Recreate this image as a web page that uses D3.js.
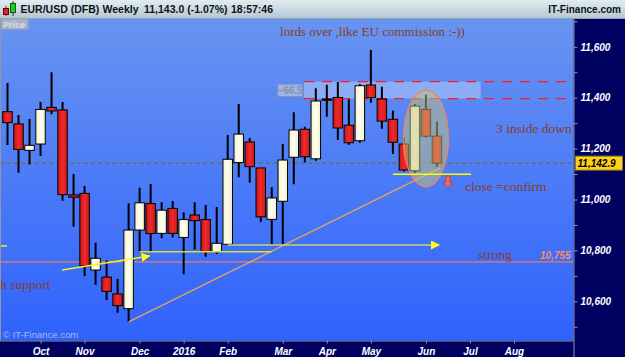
<!DOCTYPE html>
<meta charset="utf-8">
<style>
body { margin: 0; background: #000060; }
svg { display: block; font-family: "Liberation Sans", Arial, sans-serif; }
.note { font-family: "Liberation Serif", "Times New Roman", serif; fill: #8a3b26; }
.axis text { fill: #fff; font-weight: bold; font-style: italic; font-size: 10px; }
.axis line, .axis path { stroke: #8a96aa; }
</style>
<svg width="625" height="357"></svg>
<script src="https://cdn.jsdelivr.net/npm/d3@7"></script>
<script>
// weekly bars EUR/USD (DFB), week of 14 Sep 2015 to week of 13 Jun 2016
var opens  = [11345, 11297, 11193, 11218, 11362, 11352, 11018, 11024, 10723, 10695,
              10629, 10571, 10880, 10984, 10867, 10965, 10851, 10939, 10921, 10795,
              10824, 11145, 11226, 11124, 10922, 10993, 11166, 11276, 11160, 11394,
              11401, 11292, 11231, 11450, 11395, 11315, 11218, 11113, 11354, 11249]
var highs  = [11458, 11332, 11316, 11383, 11500, 11383, 11100, 11053, 10830, 10760,
              10688, 10985, 11046, 11061, 10989, 10994, 10950, 10989, 10978, 10971,
              11253, 11375, 11242, 11124, 11048, 11218, 11343, 11286, 11437, 11451,
              11462, 11394, 11454, 11587, 11443, 11349, 11244, 11375, 11412, 11306]
var lows   = [11214, 11105, 11138, 11171, 11335, 10995, 10893, 10699, 10665, 10605,
              10555, 10519, 10795, 10795, 10848, 10851, 10706, 10804, 10775, 10786,
              10822, 11087, 11066, 10912, 10825, 10825, 11060, 11145, 11152, 11325,
              11234, 11215, 11223, 11380, 11278, 11179, 11110, 11103, 11244, 11129]
var closes = [11302, 11197, 11213, 11354, 11348, 11019, 11009, 10739, 10769, 10639,
              10583, 10880, 10987, 10866, 10958, 10867, 10921, 10917, 10795, 10828,
              11158, 11257, 11129, 10932, 11006, 11155, 11273, 11168, 11387, 11394,
              11281, 11223, 11447, 11400, 11308, 11225, 11116, 11367, 11249, 11143]

var monthTicks  = [3, 7, 12, 16, 20, 25, 29, 33, 38, 42, 46]
var monthLabels = ['Oct', 'Nov', 'Dec', '2016', 'Feb', 'Mar', 'Apr', 'May', 'Jun', 'Jul', 'Aug']
var priceTicks  = [10600, 10800, 11000, 11200, 11400, 11600]
var minorTicks  = [10500, 10700, 10900, 11100, 11300, 11500, 11700]

var lastPrice    = 11142.9
var supportLevel = 10755
var bandLevels   = [11396.5, 11463]
var bandSpan     = [26.93, 42.98]

// drawn lines, as [bar index, price]
var trendLine    = [[11, 10519], [39.3, 11124]]
var supportArrow = [[4.95, 10723], [12.9, 10778]]
var supportLine  = [[12.0, 10795], [24.0, 10795]]
var strongArrow  = [[20.0, 10821], [39.2, 10821]]
var leftStub     = [[-0.7, 10817], [-0.05, 10817]]
var confirmLine  = [[35.0, 11099], [42.1, 11099]]
var circled      = {i0: 36.0, i1: 40.0, top: 11430, bottom: 11050}
var downArrow    = {i: 40.0, top: 11092, bottom: 11048}

var notes = [
  {text: 'lords over ,like EU commission :-))', i: 24.75, v: 11642, size: 13},
  {text: '3 inside down ?', i: 44.37, v: 11261, size: 13.5},
  {text: 'close =confirm', i: 41.55, v: 11033, size: 13.5},
  {text: 'strong', i: 42.73, v: 10766, size: 13.5},
  {text: 'h support', i: -0.68, v: 10648, size: 13.5}
]

const svg = d3.select('svg')
const plotL = 0, plotR = 573.5, plotT = 19, plotB = 340.5

const x = d3.scaleLinear().domain([0, 46]).range([7.5, 514])
const y = d3.scaleLinear().domain([10500, 11700]).range([326.75, 21.35])
const line = d3.line().x(d => x(d[0])).y(d => y(d[1]))

const defs = svg.append('defs')
var bg = defs.append('linearGradient').attr('id', 'bg')
  .attr('x1', 0).attr('y1', 0).attr('x2', 0).attr('y2', 1)
bg.append('stop').attr('offset', '0%').attr('stop-color', '#6894f1')
bg.append('stop').attr('offset', '100%').attr('stop-color', '#2f62fd')

var hd = defs.append('linearGradient').attr('id', 'hd')
  .attr('x1', 0).attr('y1', 0).attr('x2', 0).attr('y2', 1)
hd.append('stop').attr('offset', '0%').attr('stop-color', '#e2ecf0')
hd.append('stop').attr('offset', '100%').attr('stop-color', '#b4c8d4')

var rg = defs.append('linearGradient').attr('id', 'redBody')
rg.append('stop').attr('offset', '0%').attr('stop-color', '#c81616')
rg.append('stop').attr('offset', '50%').attr('stop-color', '#f02a2a')
rg.append('stop').attr('offset', '100%').attr('stop-color', '#cc1818')

var wg = defs.append('linearGradient').attr('id', 'whiteBody')
wg.append('stop').attr('offset', '0%').attr('stop-color', '#f4f1cc')
wg.append('stop').attr('offset', '50%').attr('stop-color', '#fffef0')
wg.append('stop').attr('offset', '100%').attr('stop-color', '#f2efc8')

defs.append('clipPath').attr('id', 'plot')
  .append('rect').attr('x', plotL).attr('y', plotT).attr('width', plotR - plotL).attr('height', plotB - plotT)

defs.append('marker').attr('id', 'yarrow')
  .attr('viewBox', '0 -5 10 10')
  .attr('refX', 9).attr('refY', 0)
  .attr('markerUnits', 'userSpaceOnUse')
  .attr('markerWidth', 9).attr('markerHeight', 9)
  .attr('orient', 'auto')
  .append('path').attr('d', 'M0,-5L10,0L0,5Z').attr('fill', '#ffff10')

// header
svg.append('rect').attr('width', 625).attr('height', 18).attr('fill', 'url(#hd)')
svg.append('line').attr('x1', 0).attr('x2', 625).attr('y1', 18.5).attr('y2', 18.5).attr('stroke', '#8fa3b0')
var icon = svg.append('g')
icon.append('line').attr('x1', 6).attr('x2', 6).attr('y1', 6).attr('y2', 16).attr('stroke', '#333')
icon.append('rect').attr('x', 3.5).attr('y', 8.5).attr('width', 5).attr('height', 6).attr('fill', '#e02222').attr('stroke', '#600')
icon.append('line').attr('x1', 13).attr('x2', 13).attr('y1', 1).attr('y2', 16).attr('stroke', '#333')
icon.append('rect').attr('x', 10.5).attr('y', 3.5).attr('width', 5).attr('height', 9).attr('fill', '#22cc22').attr('stroke', '#060')

var header = [['EUR/USD (DFB)', 20.5], ['Weekly', 102.5], ['11,143.0 (-1.07%)', 144], ['18:57:46', 231]]
svg.append('g').selectAll('text').data(header).enter().append('text')
  .attr('x', d => d[1]).attr('y', 13)
  .attr('font-size', 10.5).attr('font-weight', 'bold').attr('fill', '#111')
  .text(d => d[0])
svg.append('text').attr('x', 621).attr('y', 12.5).attr('text-anchor', 'end')
  .attr('font-size', 10).attr('font-weight', 'bold').attr('fill', '#111')
  .text('IT-Finance.com')

// plot area
svg.append('rect').attr('x', plotL).attr('y', plotT).attr('width', plotR - plotL).attr('height', plotB - plotT)
  .attr('fill', 'url(#bg)')

const plot = svg.append('g').attr('clip-path', 'url(#plot)')

// resistance band
plot.append('rect')
  .attr('x', x(bandSpan[0])).attr('width', x(bandSpan[1]) - x(bandSpan[0]))
  .attr('y', y(bandLevels[1])).attr('height', y(bandLevels[0]) - y(bandLevels[1]))
  .attr('fill', '#ffffff').attr('opacity', 0.3)
plot.selectAll('.band').data(bandLevels).enter().append('line')
  .attr('x1', x(bandSpan[0])).attr('x2', plotR)
  .attr('y1', d => y(d)).attr('y2', d => y(d))
  .attr('stroke', '#ff1c1c').attr('stroke-width', 1.3).attr('stroke-dasharray', '10,8')

var tagG = plot.append('g')
tagG.append('rect')
  .attr('x', x(24.54)).attr('width', x(26.81) - x(24.54))
  .attr('y', y(11453)).attr('height', y(11404) - y(11453))
  .attr('fill', '#9db3ea').attr('stroke', '#8292b0')
tagG.append('text')
  .attr('x', (x(24.54) + x(26.81)) / 2).attr('y', y(11404) - 2.5)
  .attr('text-anchor', 'middle').attr('font-size', 10).attr('font-weight', 'bold').attr('fill', '#8a92a2')
  .text(d3.format('.1f')(bandLevels[0] - bandLevels[1]))

// last price and support levels
plot.append('line').attr('x1', plotL).attr('x2', plotR).attr('y1', y(lastPrice)).attr('y2', y(lastPrice))
  .attr('stroke', '#6c6c3a').attr('stroke-width', 1.3).attr('stroke-dasharray', '4,3')
plot.append('line').attr('x1', plotL).attr('x2', plotR).attr('y1', y(supportLevel)).attr('y2', y(supportLevel))
  .attr('stroke', '#ee7c5c').attr('stroke-width', 1.3)
plot.append('text').attr('x', plotR - 3).attr('y', y(supportLevel) - 3).attr('text-anchor', 'end')
  .attr('font-size', 10).attr('font-weight', 'bold').attr('font-style', 'italic').attr('fill', '#ff8a5c')
  .text(d3.format(',')(supportLevel))

// candles
var bars = d3.range(opens.length).map(i => ({i: i, o: opens[i], h: highs[i], l: lows[i], c: closes[i]}))
var candle = plot.append('g').selectAll('g').data(bars).enter().append('g')
candle.append('line')
  .attr('x1', d => x(d.i)).attr('x2', d => x(d.i))
  .attr('y1', d => y(d.h)).attr('y2', d => y(d.l))
  .attr('stroke', '#000').attr('stroke-width', 2)
candle.append('rect')
  .attr('x', d => x(d.i) - 4.75).attr('width', 9.5)
  .attr('y', d => y(Math.max(d.o, d.c)))
  .attr('height', d => Math.max(1, Math.abs(y(d.o) - y(d.c))))
  .attr('fill', d => d.c > d.o ? 'url(#whiteBody)' : 'url(#redBody)')
  .attr('stroke', '#000').attr('stroke-width', 1)

// drawn lines
plot.append('path').datum(trendLine).attr('d', line)
  .attr('stroke', '#e8a455').attr('stroke-width', 1.3).attr('fill', 'none')
plot.append('path').datum(leftStub).attr('d', line)
  .attr('stroke', '#f2f21c').attr('stroke-width', 1.5)
plot.append('path').datum(supportLine).attr('d', line)
  .attr('stroke', '#dede30').attr('stroke-width', 1.5)
plot.append('path').datum(supportArrow).attr('d', line)
  .attr('stroke', '#f4f41c').attr('stroke-width', 1.5).attr('marker-end', 'url(#yarrow)')
plot.append('path').datum(strongArrow).attr('d', line)
  .attr('stroke', '#c8d070').attr('stroke-width', 1.5).attr('marker-end', 'url(#yarrow)')

plot.append('ellipse')
  .attr('cx', (x(circled.i0) + x(circled.i1)) / 2).attr('rx', (x(circled.i1) - x(circled.i0)) / 2 + 0.5)
  .attr('cy', (y(circled.top) + y(circled.bottom)) / 2).attr('ry', (y(circled.bottom) - y(circled.top)) / 2)
  .attr('fill', '#c4c47c').attr('fill-opacity', 0.5)
  .attr('stroke', '#f08458').attr('stroke-width', 1.2)

plot.append('path').datum(confirmLine).attr('d', line)
  .attr('stroke', '#ffff00').attr('stroke-width', 1.6)

var ax = x(downArrow.i), at = y(downArrow.top), ab = y(downArrow.bottom)
plot.append('path')
  .attr('d', `M${ax - 2},${at}H${ax + 2}V${ab - 5}H${ax + 5}L${ax},${ab}L${ax - 5},${ab - 5}H${ax - 2}Z`)
  .attr('fill', '#f06a5a').attr('stroke', '#c8382c').attr('stroke-width', 0.8)

plot.append('g').selectAll('text').data(notes).enter().append('text')
  .attr('class', 'note')
  .attr('x', d => x(d.i)).attr('y', d => y(d.v))
  .attr('font-size', d => d.size)
  .text(d => d.text)

// price tag and watermark
plot.append('rect').attr('x', 1).attr('y', plotT).attr('width', 27).attr('height', 10)
  .attr('fill', '#aab3c6').attr('stroke', '#98a2b8')
plot.append('text').attr('x', 3).attr('y', plotT + 8.5)
  .attr('font-size', 9).attr('font-weight', 'bold').attr('font-style', 'italic').attr('fill', '#d6dbe4')
  .text('Price')
plot.append('text').attr('x', 3).attr('y', 338)
  .attr('font-size', 9.5).attr('fill', '#a6bae6')
  .text('\u00a9 IT-Finance.com')

svg.append('line').attr('x1', 0.5).attr('x2', 0.5).attr('y1', plotT).attr('y2', plotB).attr('stroke', '#9098a8')

// axes
svg.append('g').attr('class', 'axis')
  .attr('transform', `translate(${plotR},0)`)
  .call(d3.axisRight(y).tickValues(minorTicks).tickSize(4).tickFormat(''))
  .select('.domain').remove()
var yAxis = svg.append('g').attr('class', 'axis')
  .attr('transform', `translate(${plotR},0)`)
  .call(d3.axisRight(y).tickValues(priceTicks).tickSize(4).tickPadding(3).tickFormat(d3.format(',')))
yAxis.select('.domain').attr('d', `M0.5,${plotT}V357`)
yAxis.selectAll('text').filter(d => d === 11000)
  .attr('font-style', 'normal').attr('font-size', 11)

var xAxis = svg.append('g').attr('class', 'axis')
  .attr('transform', `translate(0,${plotB})`)
  .call(d3.axisBottom(x).tickValues(monthTicks).tickSize(3).tickPadding(4).tickFormat((d, i) => monthLabels[i]))
xAxis.select('.domain').attr('d', `M0,0.5H${plotR}`)

// last price label
svg.append('rect').attr('x', 575.5).attr('y', y(lastPrice) - 7).attr('width', 47).attr('height', 14)
  .attr('fill', '#ffd21a').attr('stroke', '#8a7a20')
svg.append('text').attr('x', 577.5).attr('y', y(lastPrice) + 4)
  .attr('font-size', 10).attr('font-weight', 'bold').attr('font-style', 'italic').attr('fill', '#000')
  .text(d3.format(',.1f')(lastPrice))
</script>
